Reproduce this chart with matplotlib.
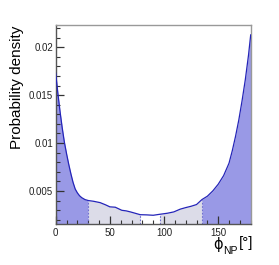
import matplotlib
matplotlib.use("Agg")
import matplotlib.pyplot as plt
import numpy as np
from matplotlib.ticker import MultipleLocator

plt.rcParams['font.family'] = ['Liberation Sans', 'DejaVu Sans']

phi = [0, 2, 4, 6, 8, 10, 12, 14, 16, 18, 20, 22, 24, 27, 30,
       35, 41, 46, 50, 55, 61, 65, 69, 74, 78, 84, 90, 96,
       103, 109, 115, 120, 125, 130, 135, 140, 145, 150, 155,
       160, 163, 166, 169, 172, 175, 178, 180]
dens = [0.0173, 0.0152, 0.0133, 0.0116, 0.0101, 0.0089, 0.0078, 0.0068, 0.0059, 0.0052, 0.0048, 0.0045, 0.0043, 0.0041, 0.0040,
        0.00392, 0.00378, 0.00355, 0.00334, 0.00330, 0.00298, 0.00292, 0.00281, 0.00265, 0.00252, 0.00250, 0.00246, 0.00256,
        0.00267, 0.00281, 0.00310, 0.00326, 0.00340, 0.00358, 0.00410, 0.00445, 0.00500, 0.00570, 0.00660,
        0.00790, 0.00920, 0.01070, 0.01240, 0.01440, 0.01660, 0.01920, 0.02130]

dark_edges = [30, 135]
light_edges = [78, 96]

dark = '#9999e6'
light = '#dcdce8'
line_c = '#2424b8'

fig = plt.figure(figsize=(2.79, 2.65), dpi=100)
ax = fig.add_axes([55.7/279, 1 - 223.5/265, (250.7-55.7)/279, (223.5-25.3)/265])

x = np.array(phi, dtype=float)
y = np.array(dens)
ymin, ymax = 0.0016, 0.0223

def seg(a, b):
    m = (x >= a) & (x <= b)
    xs = x[m]; ys = y[m]
    if xs[0] > a:
        xs = np.r_[a, xs]; ys = np.r_[np.interp(a, x, y), ys]
    if xs[-1] < b:
        xs = np.r_[xs, b]; ys = np.r_[ys, np.interp(b, x, y)]
    return xs, ys

for a, b, c in [(0, dark_edges[0], dark), (dark_edges[0], light_edges[0], light),
                (light_edges[1], dark_edges[1], light), (dark_edges[1], 180, dark)]:
    xs, ys = seg(a, b)
    ax.fill_between(xs, ymin, ys, color=c, lw=0, zorder=1)

for e in dark_edges + light_edges:
    ax.plot([e, e], [ymin, np.interp(e, x, y)], color='#7070d0', lw=0.8, ls=(0, (1.5, 1.5)), zorder=2)

ax.plot(x, y, color=line_c, lw=0.9, zorder=3)

ax.set_xlim(0, 180)
ax.set_ylim(ymin, ymax)
ax.xaxis.set_minor_locator(MultipleLocator(10))
ax.yaxis.set_minor_locator(MultipleLocator(0.001))
ax.set_xticks([0, 50, 100, 150])
ax.set_xticklabels(['0', '50', '100', '150'])
ax.set_yticks([0.005, 0.01, 0.015, 0.02])
ax.set_yticklabels(['0.005', '0.01', '0.015', '0.02'])
ax.tick_params(which='both', direction='in', top=False, right=False, colors='#333333',
               labelsize=7, labelcolor='#222222')
ax.tick_params(which='major', length=6, width=0.9)
ax.tick_params(which='minor', length=3, width=0.8)
ax.tick_params(axis='x', pad=3)
ax.tick_params(axis='y', pad=2)
for s in ['top', 'right']:
    ax.spines[s].set_color('#999999')
    ax.spines[s].set_linewidth(1.0)
for s in ['left', 'bottom']:
    ax.spines[s].set_color('#555555')
    ax.spines[s].set_linewidth(1.0)

ax.set_ylabel('Probability density', fontsize=11)
ax.yaxis.set_label_coords(-0.165, 1.0, transform=ax.transAxes)
ax.yaxis.label.set_horizontalalignment('right')

# x label: phi, subscript NP, [°]
fig.text(223/279, 1 - 245/265, 'ϕ', fontsize=10.5, ha='right', va='center', family=['DejaVu Sans'])
fig.text(223/279, 1 - 251/265, 'NP', fontsize=7.5, ha='left', va='center')
fig.text(253/279, 1 - 243/265, '[°]', fontsize=11, ha='right', va='center')

fig.savefig('out.png', dpi=100)
